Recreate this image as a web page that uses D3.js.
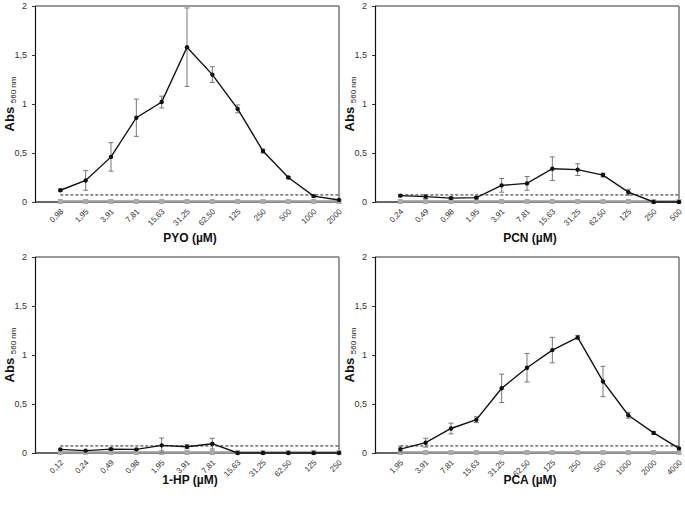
<!DOCTYPE html>
<html lang="en">
<head>
    <meta charset="UTF-8">
    <title>Abs 560 nm panels</title>
    <script src="https://d3js.org/d3.v7.min.js"></script>
    <style>
        body { margin: 0; background: #fff; }
        svg { font-family: "Liberation Sans", Arial, sans-serif; }
        .tick text { fill: #333; font-size: 9px; }
        .xlab .tick text { font-size: 8px; }
        .axis-title { font-size: 12px; font-weight: bold; fill: #111; }
    </style>
</head>
<body>
<svg width="685" height="505"></svg>
<script>
    // Data
    const pyoLabels = ['0,98', '1,95', '3,91', '7,81', '15,63', '31,25', '62,50', '125', '250', '500', '1000', '2000'];
    const pyoMean   = [0.12, 0.22, 0.46, 0.86, 1.02, 1.58, 1.30, 0.95, 0.52, 0.25, 0.06, 0.02];
    const pyoErr    = [0.01, 0.10, 0.145, 0.19, 0.06, 0.40, 0.08, 0.04, 0.02, 0.01, 0.01, 0];

    const pcnLabels = ['0,24', '0,49', '0,98', '1,95', '3,91', '7,81', '15,63', '31,25', '62,50', '125', '250', '500'];
    const pcnMean   = [0.065, 0.055, 0.04, 0.045, 0.17, 0.19, 0.34, 0.33, 0.275, 0.10, 0, 0];
    const pcnErr    = [0.01, 0.02, 0.01, 0.01, 0.07, 0.07, 0.12, 0.06, 0.02, 0.03, 0, 0];

    const hpLabels = ['0,12', '0,24', '0,49', '0,98', '1,95', '3,91', '7,81', '15,63', '31,25', '62,50', '125', '250'];
    const hpMean   = [0.037, 0.024, 0.04, 0.037, 0.078, 0.064, 0.095, 0, 0, 0, 0, 0];
    const hpErr    = [0, 0, 0.01, 0, 0.075, 0.02, 0.055, 0, 0, 0, 0, 0];

    const pcaLabels = ['1,95', '3,91', '7,81', '15,63', '31,25', '62,50', '125', '250', '500', '1000', '2000', '4000'];
    const pcaMean   = [0.04, 0.105, 0.25, 0.34, 0.66, 0.87, 1.05, 1.18, 0.73, 0.385, 0.205, 0.047];
    const pcaErr    = [0.03, 0.045, 0.055, 0.03, 0.145, 0.145, 0.13, 0.02, 0.155, 0.03, 0.015, 0];

    const controlValue = 0.005;   // grey series on the baseline
    const cutoff = 0.072;         // dashed threshold

    const yTicks = [0, 0.5, 1, 1.5, 2];

    const panels = [
        { title: 'PYO (µM)',  labels: pyoLabels, mean: pyoMean, err: pyoErr, left: 35,  top: 6,   titleY: 242 },
        { title: 'PCN (µM)',  labels: pcnLabels, mean: pcnMean, err: pcnErr, left: 375, top: 6,   titleY: 242 },
        { title: '1-HP (µM)', labels: hpLabels,  mean: hpMean,  err: hpErr,  left: 35,  top: 257, titleY: 484 },
        { title: 'PCA (µM)',  labels: pcaLabels, mean: pcaMean, err: pcaErr, left: 375, top: 257, titleY: 484 }
    ];
    const pw = 304, ph = 196;

    const svg = d3.select('svg');

    panels.forEach(p => {
        const g = svg.append('g').attr('transform', `translate(${p.left},${p.top})`);

        const x = d3.scalePoint().domain(p.labels).range([pw / 12, pw]);
        const y = d3.scaleLinear().domain([0, 2]).range([ph, 0]);

        // frame: grey top and right
        g.append('line').attr('x1', 0).attr('x2', pw).attr('y1', 0).attr('y2', 0)
            .attr('stroke', '#777').attr('stroke-width', 1.5);
        g.append('line').attr('x1', pw).attr('x2', pw).attr('y1', 0).attr('y2', ph)
            .attr('stroke', '#777').attr('stroke-width', 1.5);

        // y axis
        const yAxis = g.append('g')
            .call(d3.axisLeft(y).tickValues(yTicks).tickSize(3).tickPadding(5)
                .tickFormat(d => String(d).replace('.', ',')));
        yAxis.select('.domain').attr('stroke', '#111').attr('stroke-width', 1.2);
        yAxis.selectAll('.tick line').attr('stroke', '#333');

        // x axis baseline
        g.append('line').attr('x1', 0).attr('x2', pw).attr('y1', ph).attr('y2', ph)
            .attr('stroke', '#333').attr('stroke-width', 1.5);

        const xAxis = g.append('g')
            .attr('class', 'xlab')
            .attr('transform', `translate(0,${ph})`)
            .call(d3.axisBottom(x).tickSize(0).tickPadding(0));
        xAxis.select('.domain').remove();
        xAxis.selectAll('text')
            .attr('y', 0).attr('dy', 0)
            .attr('text-anchor', 'end')
            .attr('transform', 'translate(3,10) rotate(-45)');

        // grey control series
        g.append('path')
            .datum(p.labels)
            .attr('fill', 'none').attr('stroke', '#999').attr('stroke-width', 2.5)
            .attr('d', d3.line().x(d => x(d)).y(() => y(controlValue)));
        g.selectAll('.ctrl').data(p.labels).join('rect')
            .attr('class', 'ctrl')
            .attr('x', d => x(d) - 2.5).attr('y', y(controlValue) - 2.5)
            .attr('width', 5).attr('height', 5)
            .attr('fill', '#aaa');

        // dashed threshold
        g.append('line')
            .attr('x1', x(p.labels[0])).attr('x2', pw)
            .attr('y1', y(cutoff)).attr('y2', y(cutoff))
            .attr('stroke', '#222').attr('stroke-width', 1).attr('stroke-dasharray', '3,2');

        const pts = p.labels.map((l, i) => ({ l, m: p.mean[i], e: p.err[i] }));

        // error bars
        const eb = g.selectAll('.eb').data(pts.filter(d => d.e > 0)).join('g').attr('class', 'eb')
            .attr('stroke', '#777').attr('stroke-width', 1);
        eb.append('line').attr('x1', d => x(d.l)).attr('x2', d => x(d.l))
            .attr('y1', d => y(d.m + d.e)).attr('y2', d => y(Math.max(0, d.m - d.e)));
        eb.append('line').attr('x1', d => x(d.l) - 2.5).attr('x2', d => x(d.l) + 2.5)
            .attr('y1', d => y(d.m + d.e)).attr('y2', d => y(d.m + d.e));
        eb.append('line').attr('x1', d => x(d.l) - 2.5).attr('x2', d => x(d.l) + 2.5)
            .attr('y1', d => y(Math.max(0, d.m - d.e))).attr('y2', d => y(Math.max(0, d.m - d.e)));

        // main series
        g.append('path')
            .datum(pts)
            .attr('fill', 'none').attr('stroke', '#111').attr('stroke-width', 1.4)
            .attr('d', d3.line().x(d => x(d.l)).y(d => y(d.m)));
        g.selectAll('.pt').data(pts).join('circle')
            .attr('class', 'pt')
            .attr('cx', d => x(d.l)).attr('cy', d => y(d.m))
            .attr('r', 2.2)
            .attr('fill', '#111');

        // y title with subscript
        const yt = g.append('text')
            .attr('transform', `translate(-21,${ph / 2}) rotate(-90)`)
            .attr('text-anchor', 'middle')
            .attr('fill', '#111');
        yt.append('tspan').attr('font-size', 13).attr('font-weight', 'bold').text('Abs ');
        yt.append('tspan').attr('font-size', 8).attr('dy', 2).text('560 nm');

        // x title
        svg.append('text')
            .attr('class', 'axis-title')
            .attr('x', p.left + pw / 2 + 3).attr('y', p.titleY)
            .attr('text-anchor', 'middle')
            .text(p.title);
    });
</script>
</body>
</html>
